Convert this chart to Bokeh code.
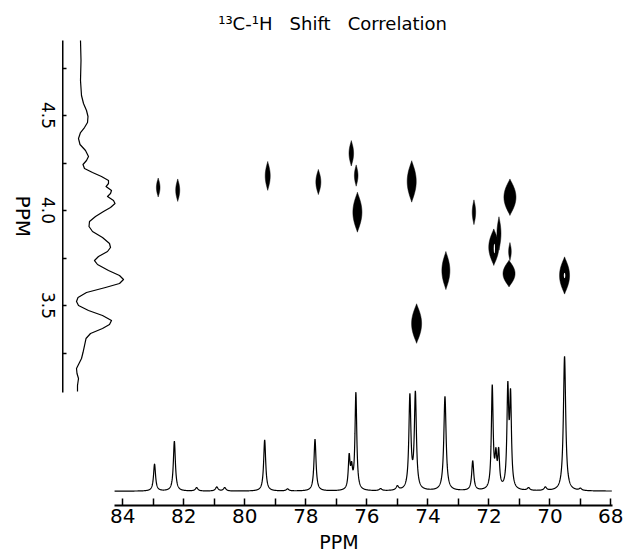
import math
import numpy as np
from bokeh.plotting import figure
from bokeh.layouts import row
from bokeh.models import Range1d, FixedTicker, Label, Title
from bokeh.core.properties import value
from bokeh.embed import file_html
from bokeh.resources import INLINE

FONT = "DejaVu Sans"
NB = "\u00a0"

# ---------------- text ----------------
title_text = "¹³C-¹H" + NB * 3 + "Shift" + NB * 3 + "Correlation"
axis_title = "PPM"

# ---------------- ticks ----------------
c13_ticks = [84, 82, 80, 78, 76, 74, 72, 70, 68]
c13_minor = [83, 81, 79, 77, 75, 73, 71, 69]
h1_ticks = [3.5, 4.0, 4.5]
h1_tick_labels = ["3.5", "4.0", "4.5"]
h1_minor = [3.25, 3.75, 4.25, 4.75]
c13_axis_span = (67.95, 84.27)
h1_axis_span = (3.044, 4.895)

# ---------------- 1D 13C spectrum (peak list: ppm, height, half width) ----------------
c13_peak_ppm = [82.96, 82.31, 81.58, 80.92, 80.66, 79.35, 78.6, 77.70, 76.58, 76.50,
                76.36, 75.55, 75.0, 74.59, 74.41, 73.44, 72.53, 71.89, 71.77, 71.68,
                71.38, 71.29, 70.7, 70.15, 69.52, 69.0]
c13_peak_height = [20.0, 37.0, 2.5, 3.0, 2.5, 38.0, 1.5, 38.5, 24.0, 14.0,
                   72.0, 1.5, 3.0, 69.0, 71.0, 70.0, 22.0, 76.0, 22.0, 26.0,
                   72.0, 66.0, 2.0, 2.5, 100.0, 1.5]
c13_peak_hwhm = [0.04, 0.04, 0.05, 0.05, 0.05, 0.04, 0.05, 0.04, 0.035, 0.035,
                 0.035, 0.05, 0.05, 0.04, 0.04, 0.045, 0.04, 0.035, 0.035, 0.035,
                 0.035, 0.035, 0.05, 0.05, 0.045, 0.05]

# ---------------- 1H projection trace (ppm, intensity) ----------------
h1_trace_ppm = [4.8947, 4.7895, 4.6842, 4.6053, 4.5632, 4.5263, 4.4947, 4.4632, 4.4368, 4.4105,
                4.3789, 4.3474, 4.3158, 4.2842, 4.2632, 4.2421, 4.2211, 4.2000, 4.1789, 4.1579,
                4.1421, 4.1263, 4.1053, 4.0895, 4.0737, 4.0526, 4.0368, 4.0158, 3.9947, 3.9684,
                3.9421, 3.9158, 3.8895, 3.8579, 3.8263, 3.8053, 3.7842, 3.7579, 3.7368, 3.7158,
                3.6842, 3.6579, 3.6368, 3.6158, 3.5947, 3.5684, 3.5421, 3.5211, 3.5000, 3.4737,
                3.4474, 3.4211, 3.4000, 3.3789, 3.3526, 3.3263, 3.2895, 3.2526, 3.2211, 3.1895,
                3.1684, 3.1421, 3.1158, 3.0789, 3.0474]
h1_trace_int = [4.0, 4.5, 4.0, 5.0, 7.0, 10.0, 11.5, 11.0, 8.0, 4.0,
                2.0, 3.5, 9.0, 12.0, 10.0, 6.5, 8.0, 16.0, 25.0, 32.0,
                32.0, 29.5, 35.0, 34.0, 31.0, 37.0, 38.5, 34.0, 27.0, 19.0,
                13.0, 12.5, 16.0, 26.0, 33.0, 34.0, 31.0, 22.0, 18.0, 21.0,
                32.0, 43.0, 47.0, 43.0, 29.0, 10.0, 1.5, 0.0, 2.0, 12.0,
                26.0, 35.0, 33.0, 26.0, 14.0, 9.5, 8.0, 6.5, 5.0, 2.0,
                0.0, 0.5, 2.0, 1.0, 1.0]

# ---------------- 2D cross peaks (13C ppm, 1H ppm, half sizes) ----------------
xp_c = [82.84, 82.20, 79.25, 77.59, 76.51, 76.35, 76.31, 74.53, 71.31, 72.49,
        71.67, 71.84, 73.41, 71.34, 71.31, 69.52, 74.37]
xp_h = [4.121, 4.107, 4.182, 4.150, 4.301, 4.184, 3.991, 4.153, 4.070, 3.991,
        3.879, 3.807, 3.684, 3.668, 3.784, 3.658, 3.405]
xp_c_half = [0.059, 0.066, 0.082, 0.082, 0.075, 0.059, 0.148, 0.148, 0.197, 0.056,
             0.066, 0.164, 0.131, 0.197, 0.043, 0.164, 0.164]
xp_h_half = [0.050, 0.059, 0.076, 0.066, 0.067, 0.056, 0.105, 0.109, 0.096, 0.065,
             0.088, 0.096, 0.100, 0.070, 0.047, 0.098, 0.104]
# small open centres of two contours
hole_c = [69.52, 71.82]
hole_h = [3.658, 3.80]
hole_c_size = [0.05, 0.04]
hole_h_size = [0.028, 0.05]

# shared 1H scale
h1_range = Range1d(2.4474, 5.1053)

# ---------------- main figure ----------------
p = figure(width=561, height=555,
           x_range=Range1d(85.977, 67.85), y_range=h1_range,
           output_backend="svg", toolbar_location=None,
           min_border_left=0, min_border_right=8, min_border_top=0, min_border_bottom=50,
           background_fill_color="white", border_fill_color="white",
           outline_line_color=None)
p.grid.visible = False
p.extra_x_ranges = {"h1": Range1d(-14, 539)}
p.extra_y_ranges = {"c13": Range1d(-10.62, 364.3)}

xa = p.xaxis[0]
xa.ticker = FixedTicker(ticks=c13_ticks, minor_ticks=c13_minor)
xa.bounds = c13_axis_span
xa.axis_line_width = 2
xa.axis_line_color = "black"
xa.major_tick_in = 7
xa.major_tick_out = 0
xa.minor_tick_in = 7
xa.minor_tick_out = 0
xa.major_tick_line_width = 1.5
xa.minor_tick_line_width = 1.5
xa.major_tick_line_color = "black"
xa.minor_tick_line_color = "black"
xa.major_label_text_font = FONT
xa.major_label_text_font_size = "20px"
xa.major_label_text_color = "black"
xa.major_label_standoff = 3

# bottom axis title, shifted to sit under the middle of the 13C axis
p.add_layout(Title(text=axis_title, align="center", offset=20, standoff=6,
                   text_font=FONT, text_font_size="19px", text_font_style="normal",
                   text_color="black"), "below")

ya = p.yaxis[0]
# tick marks only here; the 1H tick labels are drawn in the left strip
ya.ticker = FixedTicker(ticks=[], minor_ticks=sorted(h1_ticks + h1_minor))
ya.bounds = h1_axis_span
ya.axis_line_width = 2
ya.axis_line_color = "black"
ya.minor_tick_in = 4
ya.minor_tick_out = 0
ya.minor_tick_line_width = 1.5
ya.minor_tick_line_color = "black"
ya.major_label_standoff = 0

# 1D 13C spectrum
cx = np.linspace(c13_axis_span[1], 67.97, 4000)
cy = np.zeros_like(cx)
for c0, h0, g0 in zip(c13_peak_ppm, c13_peak_height, c13_peak_hwhm):
    cy += h0 / (1.0 + ((cx - c0) / g0) ** 2)
p.line(cx, cy, y_range_name="c13", line_color="black", line_width=1.2)

# 1H projection
p.line(h1_trace_int, h1_trace_ppm, x_range_name="h1", line_color="black",
       line_width=1.2, line_join="round")

# cross peaks
s = np.linspace(-1, 1, 41)
shape = (1 - s ** 2) ** 1.2
xs, ys = [], []
for c0, h0, cw, hh in zip(xp_c, xp_h, xp_c_half, xp_h_half):
    xs.append(np.concatenate([c0 + cw * shape, (c0 - cw * shape)[::-1]]).tolist())
    ys.append(np.concatenate([h0 + hh * s, (h0 + hh * s)[::-1]]).tolist())
p.patches(xs, ys, fill_color="black", line_color="black", line_width=0.5)
p.ellipse(hole_c, hole_h, width=hole_c_size, height=hole_h_size,
          fill_color="white", line_color=None)

# title
p.add_layout(Label(x=77.125, y=4.984, text=title_text, text_align="center",
                   text_baseline="alphabetic", text_font=FONT, text_font_size="18px",
                   text_color="black"))

# ---------------- left strip: 1H tick labels and axis title ----------------
left = figure(width=62, height=555, x_range=Range1d(0, 62), y_range=h1_range,
              output_backend="svg", toolbar_location=None,
              x_axis_location=None, y_axis_location=None,
              min_border_left=0, min_border_right=0, min_border_top=0, min_border_bottom=50,
              background_fill_color="white", border_fill_color="white",
              outline_line_color=None)
left.grid.visible = False
left.text(x=[47.5] * len(h1_ticks), y=h1_ticks, text=h1_tick_labels, angle=-math.pi / 2,
          text_align="center", text_baseline="middle", text_font=value(FONT),
          text_font_size=value("17px"), text_color="black")
left.text(x=[22.0], y=[sum(h1_axis_span) / 2], text=[axis_title], angle=-math.pi / 2,
          text_align="center", text_baseline="middle", text_font=value(FONT),
          text_font_size=value("20px"), text_color="black")

layout = row(left, p)
open("out.html", "w").write(file_html(layout, INLINE))
